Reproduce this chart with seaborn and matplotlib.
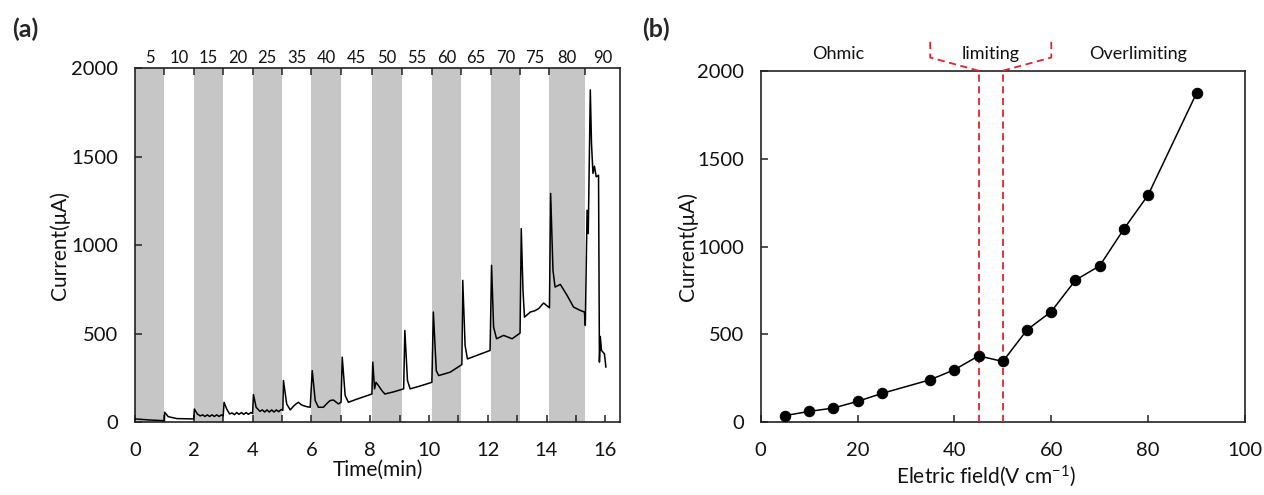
import matplotlib
matplotlib.use("Agg")
import matplotlib.pyplot as plt
import matplotlib.transforms as mtransforms
import numpy as np
import pandas as pd
import seaborn as sns

# ---------------- Panel (a): current trace vs time ----------------
time_min = [0, 0.5, 1.0,
            1.01, 1.13, 1.42, 2.0,
            2.02, 2.12, 2.22, 2.3, 2.38, 2.46, 2.54, 2.62, 2.7, 2.78, 2.86, 2.94, 3.0,
            3.03, 3.12, 3.22, 3.3, 3.38, 3.46, 3.54, 3.62, 3.7, 3.78, 3.86, 3.94, 4.0,
            4.03, 4.12, 4.25, 4.33, 4.41, 4.49, 4.57, 4.65, 4.73, 4.81, 4.89, 4.97, 5.03,
            5.05, 5.16, 5.28, 5.4, 5.48, 5.56, 5.65, 5.73, 5.85, 5.96,
            6.03, 6.13, 6.24, 6.41, 6.55, 6.64, 6.75, 6.92, 7.01,
            7.05, 7.15, 7.26, 7.5, 7.75, 8.06,
            8.09, 8.15, 8.2, 8.28, 8.4, 8.5, 8.8, 9.14,
            9.18, 9.27, 9.36, 9.7, 10.1,
            10.15, 10.25, 10.33, 10.72, 11.12,
            11.15, 11.23, 11.31, 11.7, 12.08,
            12.13, 12.2, 12.3, 12.54, 12.83, 13.1,
            13.14, 13.2, 13.25, 13.45, 13.6, 13.73, 13.9, 14.1,
            14.14, 14.22, 14.29, 14.47, 14.7, 14.92, 15.15, 15.29, 15.32,
            15.38, 15.42, 15.49, 15.53, 15.58, 15.63, 15.69, 15.77, 15.8, 15.83, 15.87, 15.97, 16.02]
current_uA = [19, 13, 9,
              57, 32, 21, 19,
              75, 47, 36, 42, 33, 42, 33, 42, 33, 42, 33, 42, 36,
              113, 75, 47, 53, 43, 55, 45, 55, 45, 55, 45, 55, 50,
              157, 85, 62, 70, 58, 70, 58, 70, 58, 70, 60, 72, 68,
              236, 104, 70, 92, 104, 113, 100, 94, 88, 85,
              292, 123, 85, 85, 110, 123, 126, 104, 113,
              368, 151, 113, 128, 142, 160,
              340, 189, 226, 208, 179, 160, 172, 189,
              519, 236, 189, 205, 226,
              623, 292, 264, 283, 326,
              802, 434, 358, 382, 406,
              887, 538, 472, 491, 472, 504,
              1094, 745, 594, 623, 630, 642, 674, 647,
              1293, 859, 764, 779, 717, 651, 632, 623, 547,
              1198, 1066, 1878, 1576, 1406, 1447, 1387, 1396, 340, 485, 406, 387, 311]

band_starts = [0, 2, 4, 6, 8.05, 10.1, 12.1, 14.07]
band_ends = [1, 3, 5, 7, 9.1, 11.1, 13.1, 15.3]
step_edges = [0, 1, 2, 3, 4, 5, 6, 7, 8.05, 9.1, 10.1, 11.1, 12.1, 13.1, 14.07, 15.3, 16.5]
step_fields = ["5", "10", "15", "20", "25", "35", "40", "45", "50",
               "55", "60", "65", "70", "75", "80", "90"]

# ---------------- Panel (b): current vs electric field ----------------
field_V_cm = [5, 10, 15, 20, 25, 35, 40, 45, 50, 55, 60, 65, 70, 75, 80, 90]
current_b = [38, 62, 81, 119, 164, 242, 299, 378, 346, 526, 630, 809, 890, 1100, 1293, 1873]
limiting_bounds = [45, 50]
bracket_tips = [35, 60]
bracket_levels = [2000, 2075, 2175]
region_names = ["Ohmic", "limiting", "Overlimiting"]
region_x = [16, 47.5, 78]

sns.set_theme(style="ticks")
FONT = ["Lato", "DejaVu Sans"]
plt.rcParams["font.family"] = FONT
plt.rcParams["mathtext.fontset"] = "custom"
plt.rcParams["mathtext.rm"] = "Lato"
plt.rcParams["mathtext.it"] = "Lato:italic"

W, H = 1264, 495
fig = plt.figure(figsize=(W / 100, H / 100), dpi=100)
fig.patch.set_facecolor("white")

def frac(l, t, r, b):
    return [l / W, 1 - b / H, (r - l) / W, (b - t) / H]

ax1 = fig.add_axes(frac(135, 68.3, 620, 422.3))
ax2 = fig.add_axes(frac(760.7, 70.7, 1245, 422.3))

spine_col = "#222222"
TICK_FS = 14.5
LAB_FS = 15

for ax in (ax1, ax2):
    for s in ax.spines.values():
        s.set_color(spine_col)
        s.set_linewidth(1.2)
    ax.tick_params(direction="in", length=5, width=1.1, color=spine_col,
                   labelsize=TICK_FS, labelcolor="#111111")
    ax.tick_params(axis="y", pad=12)
    ax.tick_params(axis="x", pad=14)
    ax.set_facecolor("white")

# --- panel (a) ---
for s0, s1 in zip(band_starts, band_ends):
    ax1.axvspan(s0, s1, color="#c6c6c6", lw=0, zorder=0)
df_a = pd.DataFrame({"t": time_min, "I": current_uA})
sns.lineplot(data=df_a, x="t", y="I", ax=ax1, sort=False, estimator=None,
             color="black", lw=1.1, zorder=3)
ax1.set_xlim(0, 16.5)
ax1.set_ylim(0, 2000)
ax1.set_xticks(np.arange(0, 17, 2))
ax1.set_xticks(np.arange(1, 17, 2), minor=True)
ax1.tick_params(axis="x", which="minor", direction="in", length=5, width=1.1, color=spine_col)
ax1.set_yticks([0, 500, 1000, 1500, 2000])
ax1.set_xlabel("Time(min)", fontsize=LAB_FS, color="#111111")
ax1.set_ylabel("Current(μA)", fontsize=LAB_FS, color="#111111")
ax1.xaxis.set_label_coords(0.501, -0.106)
ax1.yaxis.set_label_coords(-0.135, 0.5)

top = ax1.secondary_xaxis("top")
mids = [(a + b) / 2 for a, b in zip(step_edges[:-1], step_edges[1:])]
top.set_xticks(step_edges[1:-1])
top.set_xticklabels([])
top.set_xticks(mids, minor=True)
top.set_xticklabels(step_fields, minor=True)
top.tick_params(which="major", direction="in", length=5, width=1.1, color=spine_col)
top.tick_params(which="minor", length=0, pad=2, labelsize=12, labelcolor="#111111")
top.spines["top"].set_visible(False)

# --- panel (b) ---
df_b = pd.DataFrame({"E": field_V_cm, "I": current_b})
sns.lineplot(data=df_b, x="E", y="I", ax=ax2, marker="o", markersize=7.5,
             markeredgecolor="black", markerfacecolor="black", color="black",
             lw=1.1, zorder=4)
ax2.set_xlim(0, 100)
ax2.set_ylim(0, 2000)
ax2.set_xticks([0, 20, 40, 60, 80, 100])
ax2.set_yticks([0, 500, 1000, 1500, 2000])
ax2.set_xlabel("Eletric field(V cm$^{-1}$)", fontsize=LAB_FS, color="#111111")
ax2.set_ylabel("Current(μA)", fontsize=LAB_FS, color="#111111")
ax2.xaxis.set_label_coords(0.465, -0.118)
ax2.yaxis.set_label_coords(-0.13, 0.5)

red = "#e0242c"
dash = (0, (4, 2.5))
ax2.vlines(limiting_bounds, 0, bracket_levels[0], colors=red, linestyles=dash, lw=1.3, zorder=3)
for inner, tip in zip(limiting_bounds, bracket_tips):
    ax2.plot([inner, tip, tip], bracket_levels, color=red, ls=dash, lw=1.3,
             clip_on=False, zorder=3)
ytxt = mtransforms.blended_transform_factory(ax2.transData, ax2.transAxes)
for name, xv in zip(region_names, region_x):
    ax2.text(xv, 1.048, name, transform=ytxt, ha="center", va="center",
             fontsize=13, color="#111111")

fig.text(12 / W, 1 - 29 / H, "(a)", fontsize=18, fontweight="bold", va="center", ha="left")
fig.text(642 / W, 1 - 29 / H, "(b)", fontsize=18, fontweight="bold", va="center", ha="left")

fig.savefig("out.png", dpi=100, facecolor="white")
